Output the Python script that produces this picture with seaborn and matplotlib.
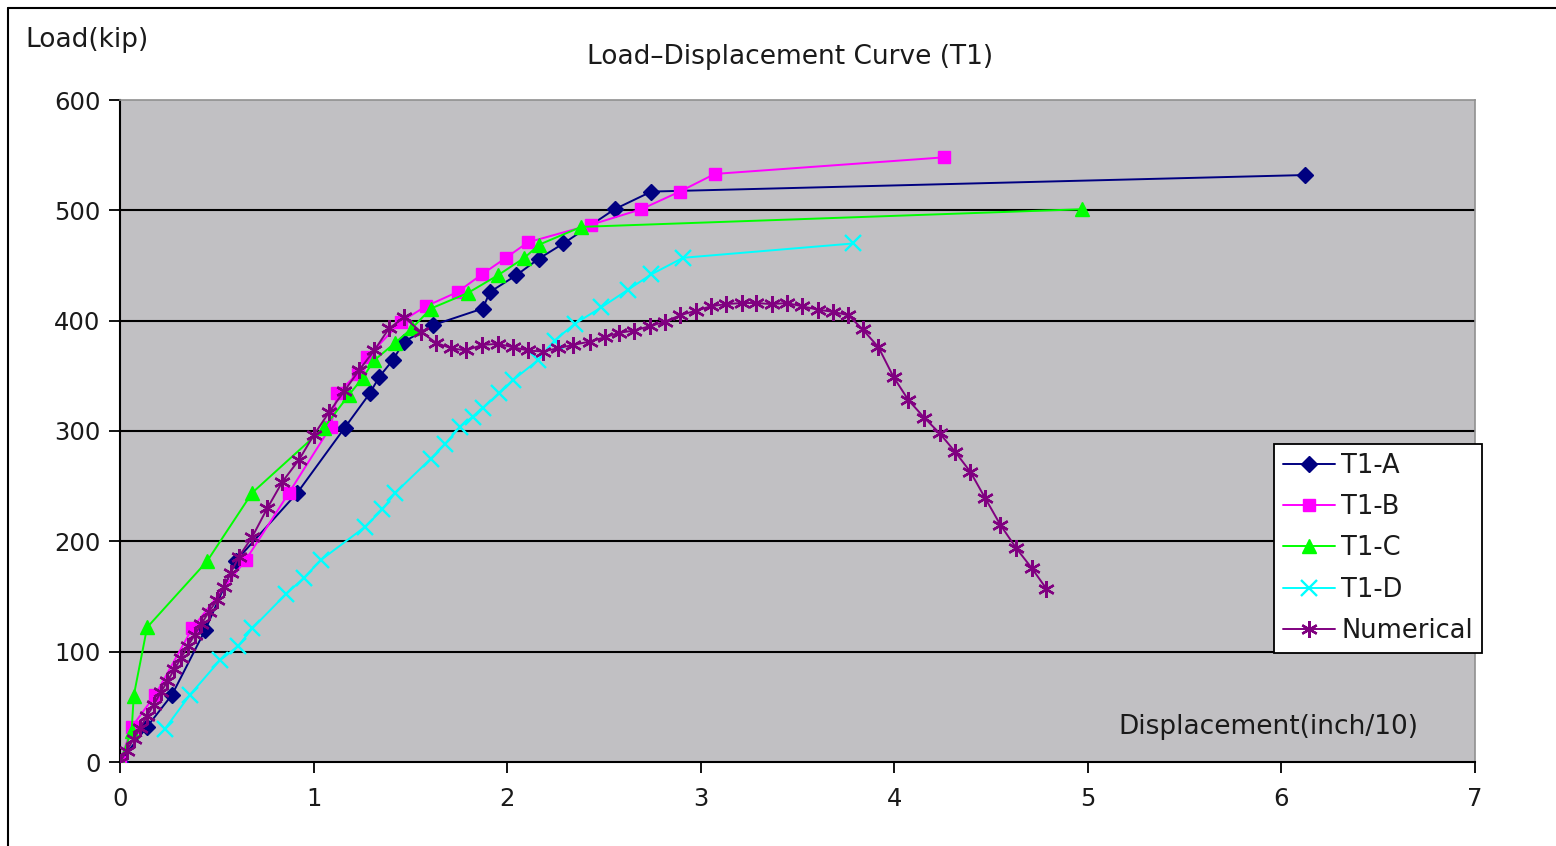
import numpy as np
import pandas as pd
import seaborn as sns
import matplotlib.pyplot as plt
from matplotlib.lines import Line2D

# values (x = displacement inch/10, y = load kip)
a_x = [0, 0.14, 0.269, 0.441, 0.597, 0.916, 1.161, 1.29, 1.339, 1.408, 1.468, 1.618,
       1.874, 1.911, 2.046, 2.162, 2.291, 2.555, 2.745, 6.123]
a_y = [0, 32, 61, 120, 182, 244, 303, 334, 349, 364, 381, 396,
       411, 426, 441, 456, 470, 501, 517, 532]

b_x = [0, 0.062, 0.183, 0.373, 0.649, 0.873, 1.089, 1.123, 1.227, 1.278, 1.451, 1.58,
       1.744, 1.87, 1.994, 2.107, 2.434, 2.693, 2.892, 3.073, 4.255]
b_y = [0, 32, 61, 121, 183, 244, 304, 334, 352, 367, 399, 413,
       426, 442, 457, 471, 487, 501, 517, 533, 548]

c_x = [0, 0.06, 0.071, 0.14, 0.45, 0.683, 1.054, 1.184, 1.253, 1.313, 1.422, 1.508,
       1.606, 1.796, 1.951, 2.089, 2.167, 2.383, 4.969]
c_y = [0, 28, 60, 122, 182, 244, 303, 333, 348, 364, 380, 393,
       411, 425, 441, 457, 469, 485, 501]

d_x = [0.232, 0.362, 0.515, 0.61, 0.683, 0.856, 0.951, 1.037, 1.265, 1.356, 1.422,
       1.606, 1.678, 1.757, 1.822, 1.874, 1.96, 2.029, 2.158, 2.245, 2.348, 2.486,
       2.624, 2.745, 2.909, 3.789]
d_y = [30, 61, 92, 105, 121, 152, 167, 183, 213, 229, 244,
       275, 288, 304, 313, 321, 334, 346, 364, 382, 397, 412,
       428, 442, 457, 470]

num_x = [0, 0.035, 0.07, 0.105, 0.14, 0.175, 0.21, 0.245, 0.28, 0.315, 0.35, 0.385,
         0.42, 0.459, 0.502, 0.537, 0.571, 0.614, 0.683, 0.761, 0.839, 0.925, 1.0,
         1.08, 1.158, 1.235, 1.313, 1.39, 1.468, 1.554, 1.632, 1.71, 1.787, 1.87,
         1.951, 2.029, 2.107, 2.184, 2.262, 2.34, 2.426, 2.504, 2.578, 2.655, 2.736,
         2.814, 2.895, 2.974, 3.052, 3.13, 3.211, 3.288, 3.366, 3.444, 3.525, 3.604,
         3.682, 3.763, 3.837, 3.918, 3.996, 4.073, 4.155, 4.234, 4.315, 4.393, 4.47,
         4.548, 4.629, 4.709, 4.786]
num_y = [0, 10, 21, 31, 42, 52, 63, 73, 84, 94, 105, 115,
         125, 136, 147, 159, 171, 186, 204, 230, 254, 274, 296,
         317, 336, 355, 373, 393, 403, 390, 380, 375, 373, 378,
         379, 376, 373, 372, 375, 378, 381, 385, 389, 391, 395,
         399, 405, 409, 413, 415, 416, 416, 415, 416, 413, 410,
         408, 405, 392, 376, 349, 328, 312, 298, 281, 263, 239,
         215, 194, 176, 157]

series = ["T1-A", "T1-B", "T1-C", "T1-D", "Numerical"]
xs = [a_x, b_x, c_x, d_x, num_x]
ys = [a_y, b_y, c_y, d_y, num_y]

colors = {"T1-A": "#000080", "T1-B": "#FF00FF", "T1-C": "#00FF00",
          "T1-D": "#00FFFF", "Numerical": "#800080"}
markers = {"T1-A": "D", "T1-B": "s", "T1-C": "^", "T1-D": "x", "Numerical": (6, 2, 0)}
msizes = {"T1-A": 8, "T1-B": 9, "T1-C": 10, "T1-D": 11, "Numerical": 12}

sns.set_style("white")
plt.rcParams["font.family"] = ["DejaVu Sans"]
txt = "#1a1a1a"

fig = plt.figure(figsize=(15.56, 8.46), dpi=100)
ax = fig.add_axes([120 / 1556, 1 - 762 / 846, 1355 / 1556, 662 / 846])
ax.set_facecolor("#C1C0C3")

for name, x, y in zip(series, xs, ys):
    df = pd.DataFrame({"x": x, "y": y})
    sns.lineplot(data=df, x="x", y="y", ax=ax, sort=False, estimator=None,
                 color=colors[name], marker=markers[name], markersize=msizes[name],
                 markeredgecolor=colors[name], markerfacecolor=colors[name],
                 markeredgewidth=1.7 if name in ("T1-D", "Numerical") else 1,
                 linewidth=1.4, label=name, zorder=3)

ax.set_xlim(0, 7)
ax.set_ylim(0, 600)
ax.set_xticks(range(0, 8))
ax.set_yticks(range(0, 700, 100))
ax.set_xlabel("")
ax.set_ylabel("")
for yv in range(100, 600, 100):
    ax.axhline(yv, color="black", linewidth=1.5, zorder=1)

for side in ("top", "right"):
    ax.spines[side].set_color("#909090")
    ax.spines[side].set_linewidth(1.2)
for side in ("left", "bottom"):
    ax.spines[side].set_color("black")
    ax.spines[side].set_linewidth(1.5)

ax.tick_params(axis="both", direction="out", length=8, width=1.3, color="black",
               labelsize=17.5, labelcolor=txt)
ax.tick_params(axis="x", bottom=True, pad=10)
ax.tick_params(axis="y", left=True, pad=6)

leg = ax.legend(loc="upper left", bbox_to_anchor=(0.852, 0.481), fontsize=18.5,
                frameon=True, fancybox=False, framealpha=1, edgecolor="black",
                handlelength=2.0, handletextpad=0.25, borderpad=0.35, labelspacing=0.6,
                borderaxespad=0)
leg.get_frame().set_linewidth(1.3)
leg.set_zorder(5)
for t in leg.get_texts():
    t.set_color(txt)

ax.text(0.958, 0.053, "Displacement(inch/10)", transform=ax.transAxes,
        ha="right", va="center", fontsize=19, color=txt)
fig.text(25 / 1556, 1 - 40 / 846, "Load(kip)", ha="left", va="center",
         fontsize=19, color=txt)
fig.text(790 / 1556, 1 - 57 / 846, "Load\u2013Displacement Curve (T1)", ha="center",
         va="center", fontsize=19, color=txt)

# outer chart frame (top and left edges visible in the reference)
fig.add_artist(Line2D([8 / 1556, 1], [1 - 8 / 846, 1 - 8 / 846],
                      transform=fig.transFigure, color="black", linewidth=1.5))
fig.add_artist(Line2D([8 / 1556, 8 / 1556], [0, 1 - 8 / 846],
                      transform=fig.transFigure, color="black", linewidth=1.5))

fig.savefig("out.png", dpi=100)
